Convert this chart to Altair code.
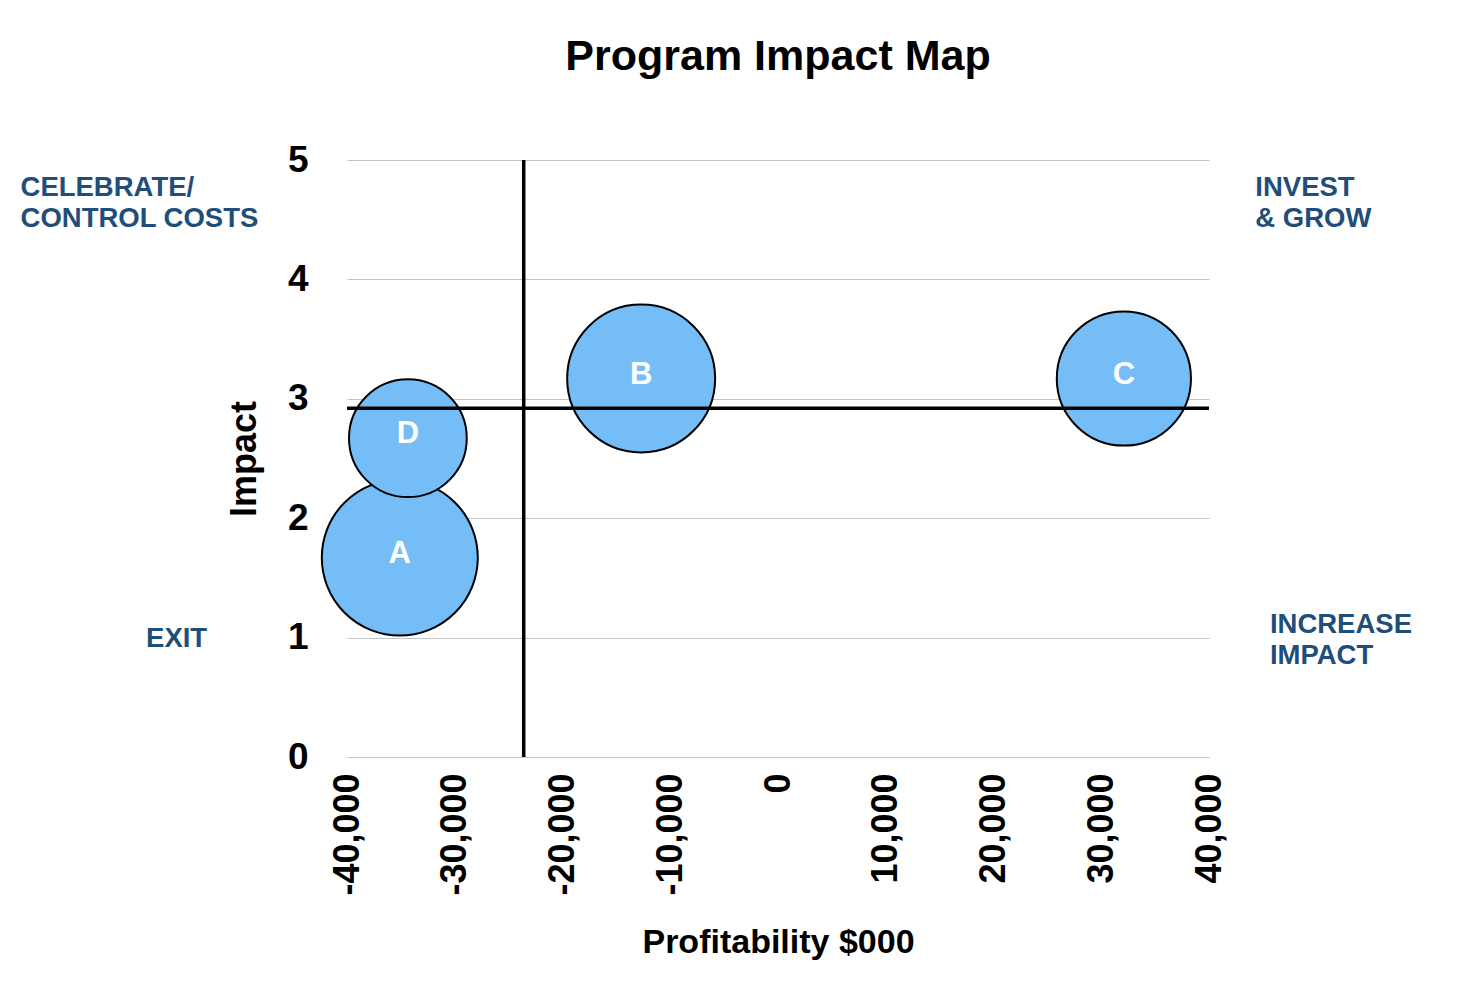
import altair as alt
import pandas as pd

# ---- data ----
programs = ["A", "B", "C", "D"]
profitability = [-35100, -12700, 32100, -34350]   # $000
impact = [1.67, 3.17, 3.17, 2.67]
bubble_size = [100, 90, 74, 57]                   # relative bubble size

divider_profit = [-23600]
divider_impact = [2.92]

quadrant_text = ["CELEBRATE/\nCONTROL COSTS", "INVEST\n& GROW", "EXIT", "INCREASE\nIMPACT"]
quadrant_x = [-70300, 44300, -58650, 45650]
quadrant_y = [4.70, 4.70, 0.92, 1.04]

x_ticks = [-40000, -30000, -20000, -10000, 0, 10000, 20000, 30000, 40000]
y_ticks = [0, 1, 2, 3, 4, 5]

FONT = "Liberation Sans"

bubbles = pd.DataFrame({"program": programs, "profit": profitability,
                        "impact": impact, "size": bubble_size})
vline = pd.DataFrame({"profit": divider_profit})
hline = pd.DataFrame({"impact": divider_impact})
quads = pd.DataFrame({"label": quadrant_text, "profit": quadrant_x, "impact": quadrant_y})

x_scale = alt.Scale(domain=[-40000, 40000], nice=False, zero=False)
y_scale = alt.Scale(domain=[0, 5], nice=False)

x_axis = alt.Axis(values=x_ticks,
                  labelExpr="(datum.value < 0 ? '-' : '') + format(abs(datum.value), ',d')",
                  labelAngle=270, grid=False, domain=False,
                  ticks=False, labelFont=FONT, labelFontSize=36, labelFontWeight="bold",
                  labelColor="black", labelPadding=16, labelOverlap=False,
                  title="Profitability $000", titleFont=FONT, titleFontSize=34,
                  titleFontWeight="bold", titleColor="black",
                  titleBaseline="alphabetic", titleY=195)
y_axis = alt.Axis(values=y_ticks, format="d", grid=True, gridColor="#c4c4c4",
                  gridWidth=1, domain=False, ticks=False, labelFont=FONT,
                  labelFontSize=37, labelFontWeight="bold", labelColor="black",
                  labelPadding=39, title="Impact", titleFont=FONT, titleFontSize=36,
                  titleFontWeight="bold", titleColor="black", titleAngle=270,
                  titleBaseline="alphabetic", titleAlign="center",
                  titleX=-92, titleY=298.5)

base = alt.Chart(bubbles)

circles = base.mark_circle(opacity=1, fill="#74BDF7", stroke="black",
                           strokeWidth=2).encode(
    x=alt.X("profit:Q", scale=x_scale, axis=x_axis),
    y=alt.Y("impact:Q", scale=y_scale, axis=y_axis),
    size=alt.Size("size:Q", scale=alt.Scale(domain=[0, 100], range=[0, 24336]),
                  legend=None),
)

vrule = alt.Chart(vline).mark_rule(color="black", strokeWidth=3.5).encode(
    x=alt.X("profit:Q", scale=x_scale)
)
hrule = alt.Chart(hline).mark_rule(color="black", strokeWidth=3.5).encode(
    y=alt.Y("impact:Q", scale=y_scale)
)

bubble_labels = base.mark_text(font=FONT, fontSize=31, fontWeight="bold",
                               color="white", baseline="middle", dy=-4).encode(
    x=alt.X("profit:Q", scale=x_scale),
    y=alt.Y("impact:Q", scale=y_scale),
    text="program:N",
)

quad_labels = alt.Chart(quads).mark_text(font=FONT, fontSize=27.5, fontWeight="bold",
                                         color="#1F4E7A", align="left",
                                         baseline="alphabetic", lineBreak="\n",
                                         lineHeight=31).encode(
    x=alt.X("profit:Q", scale=x_scale),
    y=alt.Y("impact:Q", scale=y_scale),
    text="label:N",
)

chart = alt.layer(circles, vrule, hrule, bubble_labels, quad_labels).properties(
    width=862, height=597,
    title=alt.TitleParams("Program Impact Map", font=FONT, fontSize=43,
                          fontWeight="bold", color="black", anchor="middle",
                          frame="group", offset=62),
    autosize=alt.AutoSizeParams(type="none"),
    padding={"left": 339, "top": 152, "right": 247, "bottom": 217},
).configure_view(stroke=None)

chart.save("out.html", embed_options={"renderer": "svg", "actions": False})
